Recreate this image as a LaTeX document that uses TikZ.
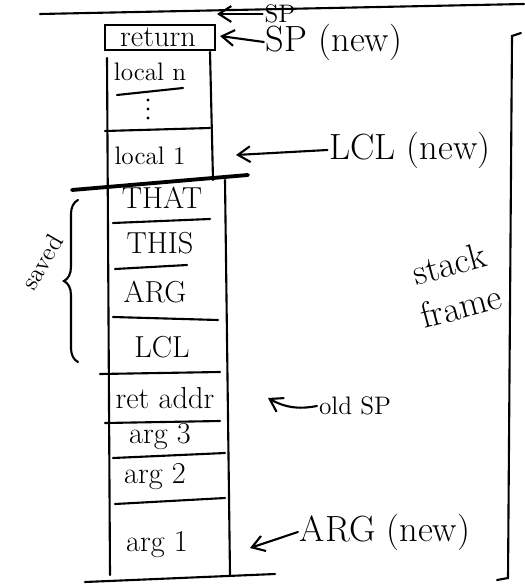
\documentclass[tikz,border=0pt]{standalone}
\usepackage{tikz}
\usetikzlibrary{arrows.meta, decorations.pathreplacing}

\tikzset{
  hand/.style={line width=1.2pt, line cap=round},
  cell/.style={font=\LARGE, inner sep=1pt},
  note/.style={font=\huge, inner sep=1pt},
  ptr/.style={hand, -{Straight Barb[length=7pt, width=9pt]}},
}

\begin{document}
\begin{tikzpicture}[x=0.02cm, y=-0.02cm]

    \useasboundingbox (0,0) rectangle (524,584);

    % Top rule of the page
    \draw[hand] (40,14) -- (524,4);

    % The return cell on top of the stack
    \draw[hand] (105,25) rectangle (215,50);
    \node[cell] (ret) at (158,37) {return};

    % Column of the stack
    \draw[hand] (107,58) -- (110,575);
    \draw[hand] (210,52) -- (213,180);
    \draw[hand] (225,180) -- (230,575);

    % Locals
    \node[cell, font=\Large] (locn) at (150,72) {local n};
    \draw[hand] (117,95) -- (183,88);
    \foreach \y in {100,109,118}
        \fill (148,\y) circle (1.6);
    \draw[hand] (105,131) -- (210,128);
    \node[cell, font=\Large] (loc1) at (150,156) {local 1};
    \draw[line width=2.2pt, line cap=round] (72,190) -- (248,175);

    % Saved segment
    \node[cell] (that) at (162,198) {THAT};
    \draw[hand] (113,223) -- (210,219);
    \node[cell] (this) at (160,243) {THIS};
    \draw[hand] (115,269) -- (187,265);
    \node[cell] (argp) at (155,292) {ARG};
    \draw[hand] (113,317) -- (218,320);
    \node[cell] (lclp) at (162,347) {LCL};
    \draw[hand] (100,374) -- (220,372);

    % Return address and arguments
    \node[cell] (addr) at (165,398) {ret addr};
    \draw[hand] (105,423) -- (220,421);
    \node[cell] (arg3) at (160,437) {arg 3};
    \draw[hand] (113,458) -- (225,453);
    \node[cell] (arg2) at (155,477) {arg 2};
    \draw[hand] (115,504) -- (225,498);
    \node[cell] (arg1) at (157,545) {arg 1};
    \draw[hand] (85,582) -- (275,574);

    % Saved brace
    \draw[hand, decorate, decoration={brace, amplitude=8pt}]
        (78,362) -- (78,200);
    \node[note, rotate=60, font=\Large] (saved) at (42,262) {saved};

    % Pointers
    \coordinate (spold) at (217,14);
    \node[font=\Large, inner sep=1pt] (sp) at (280,14) {SP};
    \draw[ptr] (sp.west) -- (spold);

    \coordinate (spnew) at (220,36);
    \node[note] (spn) at (334,42) {SP (new)};
    \draw[ptr] (spn.west) -- (spnew);

    \coordinate (lclnew) at (236,155);
    \node[note] (lcln) at (410,150) {LCL (new)};
    \draw[ptr] (lcln.west) -- (lclnew);

    \coordinate (oldsp) at (268,398);
    \node[font=\Large, inner sep=1pt] (olds) at (355,406) {old SP};
    \draw[ptr] (olds.west) to[bend left=20] (oldsp);

    \coordinate (argnew) at (250,548);
    \node[note] (argn) at (385,532) {ARG (new)};
    \draw[ptr] (argn.west) -- (argnew);

    % Stack frame bracket
    \draw[hand] (521,33) -- (512,36) -- (508,578) -- (497,580);
    \node[note, rotate=15, align=center] (frame) at (455,285) {stack\\frame};

\end{tikzpicture}
\end{document}
